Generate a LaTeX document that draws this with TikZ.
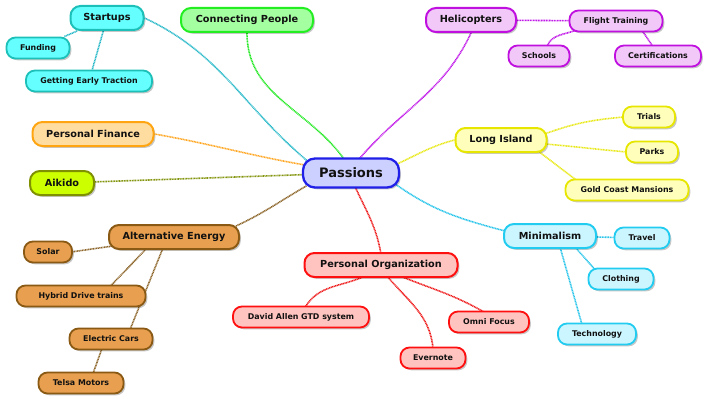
\documentclass[tikz,border=0pt]{standalone}
\usepackage{fontspec}
\setmainfont{DejaVu Sans}
\usetikzlibrary{shadows,backgrounds,calc}
\definecolor{sF}{HTML}{66FFFF}\definecolor{sB}{HTML}{1CC0B8}\definecolor{sL}{HTML}{28B8C8}
\definecolor{cF}{HTML}{A4FFA0}\definecolor{cB}{HTML}{22EE22}\definecolor{cL}{HTML}{22E822}
\definecolor{hF}{HTML}{F2C8F8}\definecolor{hB}{HTML}{C010E0}\definecolor{hL}{HTML}{C018E8}
\definecolor{pfF}{HTML}{FFDCA0}\definecolor{pfB}{HTML}{FFA512}\definecolor{pfL}{HTML}{FFA520}
\definecolor{aF}{HTML}{CCFF00}\definecolor{aB}{HTML}{7F9000}\definecolor{aL}{HTML}{849510}
\definecolor{lF}{HTML}{FFFFBB}\definecolor{lB}{HTML}{E6E600}\definecolor{lL}{HTML}{E8E818}
\definecolor{eF}{HTML}{E8A050}\definecolor{eB}{HTML}{8A5A14}\definecolor{eL}{HTML}{8B6428}
\definecolor{oF}{HTML}{FFC4C0}\definecolor{oB}{HTML}{FF1010}\definecolor{oL}{HTML}{EE1A1A}
\definecolor{mF}{HTML}{CCF6FF}\definecolor{mB}{HTML}{22CCF0}\definecolor{mL}{HTML}{28C4EA}
\definecolor{rF}{HTML}{CCD0FF}\definecolor{rB}{HTML}{2020E8}
\definecolor{txt}{HTML}{111111}
\begin{document}
\begin{tikzpicture}[x=1pt,y=1pt,
  base/.style={draw, inner sep=0pt, align=center, text=txt,
    drop shadow={shadow xshift=1.8pt, shadow yshift=-1.8pt, opacity=0.22, fill=black}},
  root/.style={base, minimum height=29pt, rounded corners=12pt, line width=2.3pt,
    font=\bfseries\fontsize{13}{15}\selectfont, draw=rB, fill=rF},
  lvlone/.style={base, minimum height=24pt, rounded corners=10pt, line width=2pt,
    font=\bfseries\fontsize{9.7}{11}\selectfont},
  lvltwo/.style={base, minimum height=21pt, rounded corners=9pt, line width=1.8pt,
    font=\bfseries\fontsize{7.9}{9}\selectfont},
  con/.style={line width=1.6pt, dash pattern=on 1pt off 0.6pt},
  bS/.style={draw=sB, fill=sF}, bC/.style={draw=cB, fill=cF}, bH/.style={draw=hB, fill=hF},
  bP/.style={draw=pfB, fill=pfF}, bA/.style={draw=aB, fill=aF}, bL/.style={draw=lB, fill=lF},
  bE/.style={draw=eB, fill=eF}, bO/.style={draw=oB, fill=oF}, bM/.style={draw=mB, fill=mF}
]
\useasboundingbox (0,0) rectangle (710,408);
% root
\node[root, minimum width=96pt] (passions) at (351,235) {Passions};
% level one
\node[lvlone, bS, minimum width=73pt] (startups) at (107,390) {Startups};
\node[lvlone, bC, minimum width=132pt] (cp) at (247,388) {Connecting People};
\node[lvlone, bH, minimum width=90pt] (heli) at (471,388) {Helicopters};
\node[lvlone, bP, minimum width=121pt] (pf) at (93,274) {Personal Finance};
\node[lvlone, bA, minimum width=64pt] (aikido) at (62,225) {Aikido};
\node[lvlone, bL, minimum width=91pt] (li) at (501,268) {Long Island};
\node[lvlone, bE, minimum width=130pt] (ae) at (174,171) {Alternative Energy};
\node[lvlone, bO, minimum width=153pt] (po) at (381,143) {Personal Organization};
\node[lvlone, bM, minimum width=92pt] (mini) at (550,172) {Minimalism};
% level two
\node[lvltwo, bS, minimum width=63pt] (funding) at (38,360) {Funding};
\node[lvltwo, bS, minimum width=126pt] (get) at (89,327) {Getting Early Traction};
\node[lvltwo, bH, minimum width=93pt] (ft) at (616,387) {Flight Training};
\node[lvltwo, bH, minimum width=61pt] (schools) at (539,352) {Schools};
\node[lvltwo, bH, minimum width=86pt] (cert) at (658,352) {Certifications};
\node[lvltwo, bL, minimum width=52pt] (trials) at (649,291) {Trials};
\node[lvltwo, bL, minimum width=52pt] (parks) at (652,256) {Parks};
\node[lvltwo, bL, minimum width=123pt] (gc) at (627,218) {Gold Coast Mansions};
\node[lvltwo, bE, minimum width=48pt] (solar) at (48,156) {Solar};
\node[lvltwo, bE, minimum width=129pt] (hybrid) at (81,112) {Hybrid Drive trains};
\node[lvltwo, bE, minimum width=83pt] (ec) at (111,69) {Electric Cars};
\node[lvltwo, bE, minimum width=85pt] (telsa) at (81,25) {Telsa Motors};
\node[lvltwo, bO, minimum width=136pt] (da) at (301,91) {David Allen GTD system};
\node[lvltwo, bO, minimum width=80pt] (omni) at (489,86) {Omni Focus};
\node[lvltwo, bO, minimum width=65pt] (evernote) at (433,50) {Evernote};
\node[lvltwo, bM, minimum width=55pt] (travel) at (642,170) {Travel};
\node[lvltwo, bM, minimum width=65pt] (clothing) at (621,129) {Clothing};
\node[lvltwo, bM, minimum width=78pt] (tech) at (597,74) {Technology};
% connectors
\begin{scope}[on background layer]
\draw[con, draw=sL] (startups.east) to[out=-25,in=140] ($(passions.north west)+(6,-4)$);
\draw[con, draw=cL] (cp.south) to[out=-90,in=125] ($(passions.north)+(-6,-3)$);
\draw[con, draw=hL] (heli.south) to[out=-115,in=50] ($(passions.north)+(7,-3)$);
\draw[con, draw=pfL] (pf.east) to[out=-10,in=170] ($(passions.west)+(3,8)$);
\draw[con, draw=aL] (aikido) -- (passions);
\draw[con, draw=eL] ($(ae.north east)+(-4,-2)$) to[out=25,in=-150] ($(passions.south west)+(5,3)$);
\draw[con, draw=lL] (li.west) to[out=195,in=25] ($(passions.east)+(-3,9)$);
\draw[con, draw=mL] ($(passions.south east)+(-4,4)$) to[out=-35,in=165] ($(mini.west)+(2,5)$);
\draw[con, draw=oL] ($(passions.south)+(4,2)$) to[out=-65,in=100] ($(po.north)+(0,-2)$);
% startups
\draw[con, draw=sL] (startups) -- (funding);
\draw[con, draw=sL] (startups) -- (get);
% helicopters
\draw[con, draw=hL] (heli) -- (ft);
\draw[con, draw=hL] ($(ft.south west)+(7,2)$) to[out=-160,in=70] ($(schools.north)+(8,-2)$);
\draw[con, draw=hL] ($(ft.south)+(26,2)$) -- ($(cert.north)+(-5,-2)$);
% long island
\draw[con, draw=lL] ($(li.east)+(-3,6)$) to[out=20,in=185] ($(trials.west)+(2,0)$);
\draw[con, draw=lL] ($(li.east)+(-2,-4)$) to[out=-5,in=175] ($(parks.west)+(2,0)$);
\draw[con, draw=lL] ($(li.south)+(37,2)$) -- ($(gc.north)+(-50,-2)$);
% minimalism
\draw[con, draw=mL] (mini) -- (travel);
\draw[con, draw=mL] ($(mini.south)+(25,2)$) -- ($(clothing.north)+(-26,-2)$);
\draw[con, draw=mL] ($(mini.south)+(10,2)$) -- ($(tech.north)+(-15,-2)$);
% alternative energy
\draw[con, draw=eL] ($(ae.south west)+(5,4)$) -- ($(solar.east)+(-2,0)$);
\draw[con, draw=eL] ($(ae.south)+(-27,2)$) -- ($(hybrid.north)+(29,-2)$);
\draw[con, draw=eL] ($(ae.south)+(-11,2)$) -- ($(ec.north)+(19,-2)$);
\draw[con, draw=eL] ($(ec.south)+(-9,2)$) -- ($(telsa.north)+(12,-2)$);
% personal organization
\draw[con, draw=oL] ($(po.south)+(-16,2)$) to[out=-155,in=60] ($(da.north)+(4,-2)$);
\draw[con, draw=oL] ($(po.south)+(6,2)$) to[out=-50,in=95] ($(evernote.north)+(0,-2)$);
\draw[con, draw=oL] ($(po.south)+(19,2)$) to[out=-22,in=150] ($(omni.north)+(-4,-2)$);
\end{scope}
\end{tikzpicture}
\end{document}
